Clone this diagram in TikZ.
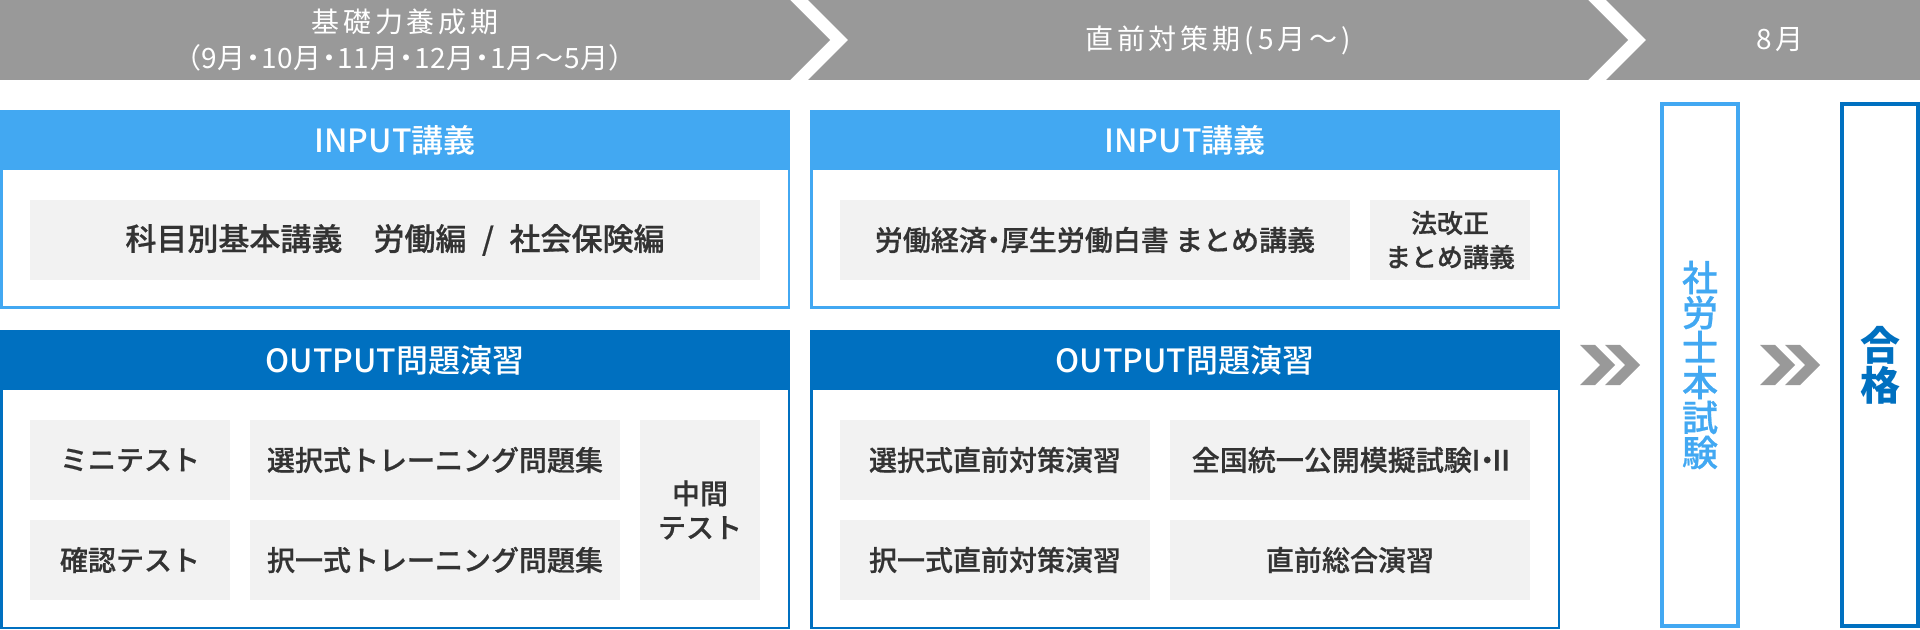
\documentclass[tikz,border=0pt]{standalone}
\usepackage{fontspec}
\setmainfont{Noto Sans CJK JP}
\newfontfamily\medfont{Noto Sans CJK JP Medium}
\newfontfamily\itemfont{Noto Sans CJK JP Medium}[FakeBold=0.6]
\newfontfamily\propfont{Noto Sans CJK JP Medium}[RawFeature=+palt,FakeBold=0.6]
\newfontfamily\bandfont{Noto Sans CJK JP}[RawFeature=+palt,LetterSpace=14]
\newfontfamily\bandfontb{Noto Sans CJK JP}[RawFeature=+palt,LetterSpace=3]
\usetikzlibrary{positioning}
\definecolor{bandgray}{HTML}{999999}
\definecolor{inblue}{HTML}{42A8F2}
\definecolor{outblue}{HTML}{0070C0}
\definecolor{itemgray}{HTML}{F2F2F2}
\definecolor{itemtext}{HTML}{333333}

\begin{document}
\begin{tikzpicture}[x=0.5pt,y=-0.5pt,
  bandtext/.style={text=white,font=\bandfont\fontsize{14}{18}\selectfont,align=center,inner sep=0pt},
  headtext/.style={text=white,font=\medfont\fontsize{16}{18}\selectfont,inner sep=0pt},
  item/.style={fill=itemgray,text=itemtext,font=\itemfont\fontsize{14}{17}\selectfont,align=center,inner sep=0pt,minimum height=40pt},
  goal/.style={draw=#1,text=#1,line width=2pt,minimum width=38pt,minimum height=261pt,align=center,inner sep=0pt}]
\useasboundingbox (0,0) rectangle (1920,630);

\fill[bandgray] (0,0) -- (790,0) -- (830,40) -- (790,80) -- (0,80) -- cycle;
\fill[bandgray] (808,0) -- (1588,0) -- (1628,40) -- (1588,80) -- (808,80) -- (848,40) -- cycle;
\fill[bandgray] (1606,0) -- (1920,0) -- (1920,80) -- (1606,80) -- (1646,40) -- cycle;
\node[bandtext] (basic) at (405,40) {基礎力養成期\\{\bandfontb （9月・10月・11月・12月・1月〜5月）}};
\node[bandtext] (final) at (1218,40) {直前対策期(5月〜)};
\node[bandtext] (aug) at (1780,40) {8月};

\fill[inblue] (0,110) rectangle (790,170);
\draw[inblue,line width=1.25pt] (1.25,111.25) rectangle (788.75,307.75);
\node[headtext] (inL) at (395,140) {INPUT講義};
\node[item,minimum width=365pt,font=\itemfont\fontsize{15.5}{17}\selectfont] (subj) at (395,240) {科目別基本講義　労働編\hspace{.5em}/\hspace{.5em}社会保険編};

\fill[inblue] (810,110) rectangle (1560,170);
\draw[inblue,line width=1.25pt] (811.25,111.25) rectangle (1558.75,307.75);
\node[headtext] (inR) at (1185,140) {INPUT講義};
\node[item,minimum width=255pt] (white) at (1095,240) {労働経済{\propfont ・}厚生労働白書 まとめ講義};
\node[item,minimum width=80pt,font=\itemfont\fontsize{13}{17}\selectfont] (law) at (1450,240) {法改正\\まとめ講義};

\fill[outblue] (0,330) rectangle (790,390);
\draw[outblue,line width=1.25pt] (1.25,331.25) rectangle (788.75,627.75);
\node[headtext] (outL) at (395,360) {OUTPUT問題演習};
\node[item,minimum width=100pt] (mini) at (130,460) {ミニテスト};
\node[item,minimum width=185pt] (selA) at (435,460) {選択式トレーニング問題集};
\node[item,minimum width=100pt] (check) at (130,560) {確認テスト};
\node[item,minimum width=185pt] (mcA) at (435,560) {択一式トレーニング問題集};
\node[item,minimum width=60pt,minimum height=90pt] (mid) at (700,510) {中間\\テスト};

\fill[outblue] (810,330) rectangle (1560,390);
\draw[outblue,line width=1.25pt] (811.25,331.25) rectangle (1558.75,627.75);
\node[headtext] (outR) at (1185,360) {OUTPUT問題演習};
\node[item,minimum width=155pt] (selB) at (995,460) {選択式直前対策演習};
\node[item,minimum width=180pt] (mock) at (1350,460) {全国統一公開模擬試験\makebox[0.3em]{Ⅰ}{\propfont ・}\makebox[0.5em]{Ⅱ}};
\node[item,minimum width=155pt] (mcB) at (995,560) {択一式直前対策演習};
\node[item,minimum width=180pt] (total) at (1350,560) {直前総合演習};

\foreach \x in {1580,1605,1760,1785}
  \fill[bandgray] (\x,345) -- ++(15,0) -- ++(20,20) -- ++(-20,20) -- ++(-15,0) -- ++(20,-20) -- cycle;

\node[goal=inblue,font=\itemfont\fontsize{18}{17.5}\selectfont] (exam) at (1700,365) {社\\労\\士\\本\\試\\験};
\node[goal=outblue,font=\fontsize{20}{19}\selectfont\bfseries] (pass) at (1880,365) {合\\格};
\end{tikzpicture}
\end{document}
